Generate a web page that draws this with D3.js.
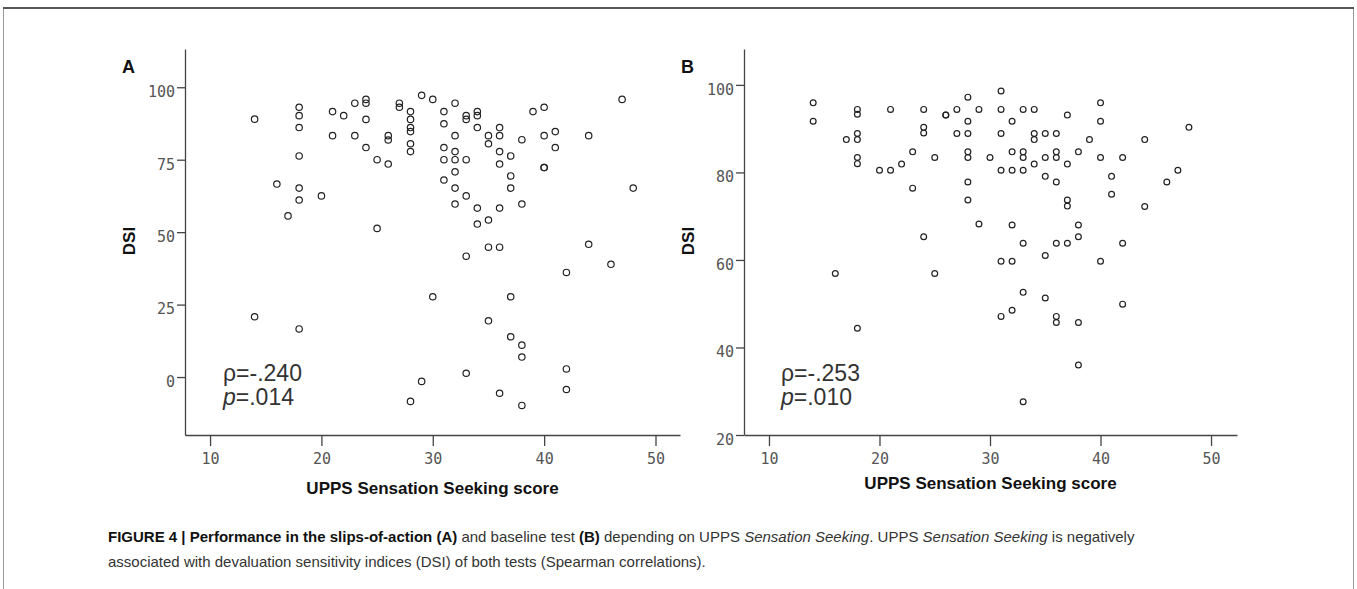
<!DOCTYPE html>
<html lang="en">
<head>
  <meta charset="UTF-8" />
  <title>Figure 4: DSI vs UPPS Sensation Seeking</title>
  <style>
    body { margin: 0; background: #fff; }
    svg { display: block; }
    .tick text { font-family: "DejaVu Sans Mono", monospace; font-size: 15px; fill: #555; }
    .tick line, .domain { stroke: #444; stroke-width: 1.3; }
    .title { font-family: "Liberation Sans", Arial, sans-serif; font-weight: bold; fill: #111; }
    .stat { font-family: "Liberation Sans", Arial, sans-serif; font-size: 23px; fill: #333; }
    .caption { font-family: "Liberation Sans", Arial, sans-serif; font-size: 15px; fill: #333; }
  </style>
</head>
<body>
  <svg id="fig" width="1357" height="589"></svg>

  <script src="https://d3js.org/d3.v7.min.js"></script>
  <script>
    // panel A: slips-of-action test
    const sensationA = [14, 14, 16, 17, 18, 18, 18, 18, 18, 18, 18, 20, 21, 21, 22, 23, 23,
      24, 24, 24, 24, 25, 25, 26, 26, 26, 27, 27, 28, 28, 28, 28, 28, 28, 28, 29, 29, 30, 30,
      31, 31, 31, 31, 31, 32, 32, 32, 32, 32, 32, 32, 33, 33, 33, 33, 33, 33, 34, 34, 34, 34, 34,
      35, 35, 35, 35, 35, 36, 36, 36, 36, 36, 36, 36, 37, 37, 37, 37, 37, 38, 38, 38, 38, 38,
      39, 40, 40, 40, 40, 41, 41, 42, 42, 42, 44, 44, 46, 47, 48];
    const dsiA = [89, 20.8, 66.6, 55.6, 93.1, 90.2, 86.1, 76.3, 65.2, 61.1, 16.6, 62.5, 91.6, 83.3, 90.2, 94.5, 83.3,
      95.8, 94.5, 88.9, 79.2, 75, 51.3, 83.3, 81.8, 73.5, 94.5, 93.1, 91.6, 88.9, 86.1, 84.7, 80.5, 77.8, -8.4, 97.2, -1.5, 95.8, 27.7,
      91.6, 87.4, 79.2, 75, 68, 94.5, 83.3, 77.8, 75, 70.8, 65.2, 59.7, 90.2, 88.9, 75, 62.5, 41.7, 1.3, 91.6, 90.2, 86.1, 58.3, 52.8,
      83.3, 80.5, 54.2, 44.8, 19.4, 86.1, 83.3, 77.8, 73.5, 58.3, 44.8, -5.6, 76.3, 69.4, 65.2, 27.7, 13.9, 81.9, 59.7, 11.0, 6.9, -9.8,
      91.6, 93.1, 83.3, 72.3, 72.3, 84.7, 79.2, 36.1, 2.8, -4.3, 83.3, 45.8, 38.9, 95.8, 65.2];

    // panel B: baseline test
    const sensationB = [14, 14, 16, 17, 18, 18, 18, 18, 18, 18, 18, 20, 21, 21, 22, 23, 23,
      24, 24, 24, 24, 25, 25, 26, 26, 27, 27, 28, 28, 28, 28, 28, 28, 28, 29, 29, 30,
      31, 31, 31, 31, 31, 31, 32, 32, 32, 32, 32, 32, 33, 33, 33, 33, 33, 33, 33, 34, 34, 34, 34,
      35, 35, 35, 35, 35, 36, 36, 36, 36, 36, 36, 36, 37, 37, 37, 37, 37, 38, 38, 38, 38, 38,
      39, 40, 40, 40, 40, 41, 41, 42, 42, 42, 44, 44, 46, 47, 48];
    const dsiB = [95.9, 91.7, 56.9, 87.5, 94.4, 93.3, 88.9, 87.5, 83.4, 82.0, 44.4, 80.5, 94.4, 80.5, 81.9, 84.7, 76.4,
      94.4, 90.3, 89.0, 65.3, 83.4, 56.9, 93.1, 93.1, 94.4, 88.9, 97.2, 91.7, 88.9, 84.7, 83.4, 77.8, 73.7, 94.4, 68.2, 83.4,
      98.6, 94.4, 88.9, 80.5, 59.7, 47.1, 91.7, 84.7, 80.5, 68.0, 59.7, 48.5, 94.4, 84.7, 83.4, 80.5, 63.8, 52.6, 27.6, 94.4, 88.9, 87.5, 81.9,
      88.9, 83.4, 79.1, 61.0, 51.3, 88.9, 84.7, 83.4, 77.8, 63.8, 47.1, 45.7, 93.1, 81.9, 73.7, 72.3, 63.8, 84.7, 68.0, 65.3, 45.7, 36.0,
      87.5, 95.9, 91.7, 83.4, 59.7, 79.1, 75.0, 83.4, 63.8, 49.9, 87.5, 72.2, 77.8, 80.5, 90.3];

    const xTicks = [10, 20, 30, 40, 50];
    const yTicksA = [0, 25, 50, 75, 100];
    const yTicksB = [20, 40, 60, 80, 100];
    const statsA = ["-.240", ".014"];
    const statsB = ["-.253", ".010"];

    const svg = d3.select("#fig");

    // frame around the figure
    svg.append("path")
      .attr("d", "M3.5,589 V8.5 H1353.5 V589")
      .attr("fill", "none").attr("stroke", "#999").attr("stroke-width", 1);
    svg.append("line").attr("x1", 3).attr("x2", 1354).attr("y1", 8).attr("y2", 8)
      .attr("stroke", "#555").attr("stroke-width", 2);

    function drawPanel(opt) {
      const g = svg.append("g");
      const x = d3.scaleLinear().domain(opt.xDomain).range([opt.left, opt.right]);
      const y = d3.scaleLinear().domain(opt.yDomain).range([435, 49]);

      g.append("g")
        .attr("transform", "translate(0,435)")
        .call(d3.axisBottom(x).tickValues(xTicks).tickSize(11).tickSizeOuter(0).tickPadding(7))
        .call(a => a.selectAll(".tick text").attr("dy", "0.71em"));

      g.append("g")
        .attr("transform", `translate(${opt.left},0)`)
        .call(d3.axisLeft(y).tickValues(opt.yTicks).tickSize(8).tickSizeOuter(0).tickPadding(2))
        .call(a => a.selectAll(".tick text").attr("dy", "0.62em"));

      g.append("g").selectAll("circle")
        .data(opt.xs.map((v, i) => [v, opt.ys[i]]))
        .join("circle")
        .attr("cx", d => x(d[0]))
        .attr("cy", d => y(d[1]))
        .attr("r", opt.r)
        .attr("fill", "none")
        .attr("stroke", "#222")
        .attr("stroke-width", 1.2);

      g.append("text").attr("class", "title")
        .attr("x", opt.left - 63).attr("y", 73)
        .style("font-size", "18px").text(opt.label);

      g.append("text").attr("class", "title")
        .attr("transform", `translate(${opt.left - 50},241) rotate(-90)`)
        .attr("text-anchor", "middle")
        .style("font-size", "17px").text("DSI");

      g.append("text").attr("class", "title")
        .attr("x", (opt.left + opt.right) / 2).attr("y", opt.titleY)
        .attr("text-anchor", "middle")
        .style("font-size", "17px").text("UPPS Sensation Seeking score");

      const st = g.append("text").attr("class", "stat");
      st.append("tspan").attr("x", opt.left + opt.statDx).attr("y", 381).text("ρ=" + opt.stats[0]);
      const p2 = st.append("tspan").attr("x", opt.left + opt.statDx).attr("y", 405);
      p2.append("tspan").style("font-style", "italic").text("p");
      p2.append("tspan").text("=" + opt.stats[1]);
    }

    drawPanel({ label: "A", left: 185, right: 680, xDomain: [7.75, 52.2], yDomain: [-20, 113.2],
      yTicks: yTicksA, xs: sensationA, ys: dsiA, r: 3.2, stats: statsA, statDx: 38, titleY: 494 });
    drawPanel({ label: "B", left: 744, right: 1237, xDomain: [7.74, 52.35], yDomain: [20, 108.2],
      yTicks: yTicksB, xs: sensationB, ys: dsiB, r: 2.9, stats: statsB, statDx: 37, titleY: 489 });

    // caption
    const cap = svg.append("text").attr("class", "caption").attr("x", 108).attr("y", 542);
    const b = t => cap.append("tspan").style("font-weight", "bold").style("fill", "#111").text(t);
    const r = t => cap.append("tspan").text(t);
    const it = t => cap.append("tspan").style("font-style", "italic").text(t);
    b("FIGURE 4 | Performance in the slips-of-action (A)"); r(" and baseline test "); b("(B)");
    r(" depending on UPPS "); it("Sensation Seeking"); r(". UPPS "); it("Sensation Seeking");
    r(" is negatively");
    svg.append("text").attr("class", "caption").attr("x", 108).attr("y", 567)
      .text("associated with devaluation sensitivity indices (DSI) of both tests (Spearman correlations).");
  </script>
</body>
</html>
